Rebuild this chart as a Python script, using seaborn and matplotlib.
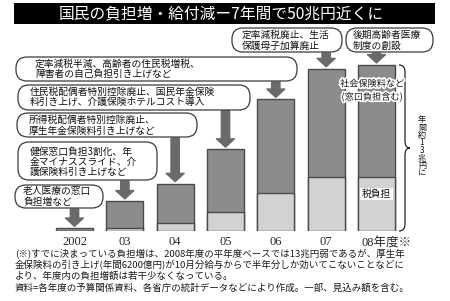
import numpy as np
import pandas as pd
import matplotlib
matplotlib.use("Agg")
import matplotlib.pyplot as plt
import seaborn as sns
import matplotlib.transforms as mtransforms
import matplotlib.patheffects as pe
from matplotlib.patches import FancyBboxPatch, Rectangle, PathPatch
from matplotlib.path import Path

# ---------------- data ----------------
years = ["2002", "03", "04", "05", "06", "07", "08年度※"]
tax = [0.0, 0.23, 0.6, 1.5, 3.0, 4.2, 4.2]          # 税負担 (兆円)
social = [0.2, 2.12, 3.1, 4.9, 7.3, 8.5, 8.8]       # 社会保険料など (兆円)

title = "国民の負担増・給付減ー7年間で50兆円近くに"
callout_texts = [
    ["老人医療の窓口", "負担増など"],
    ["健保窓口負担3割化、年", "金マイナススライド、介", "護保険料引き上げなど"],
    ["所得税配偶者特別控除廃止、", "厚生年金保険料引き上げなど"],
    ["住民税配偶者特別控除廃止、国民年金保険", "料引き上げ、介護保険ホテルコスト導入"],
    ["定率減税半減、高齢者の住民税増税、", "障害者の自己負担引き上げなど"],
    ["定率減税廃止、生活", "保護母子加算廃止"],
    ["後期高齢者医療", "制度の創設"],
]
series_labels = ["社会保険料など", "(窓口負担含む)", "税負担"]
brace_label = "年間約13兆円に"
footnotes = [
    "(※)すでに決まっている負担増は、2008年度の平年度ベースでは13兆円弱であるが、厚生年",
    "金保険料の引き上げ(年間6200億円)が10月分給与からで半年分しか効いてこないことなどに",
    "より、年度内の負担増額は若干少なくなっている。",
    "資料=各年度の予算関係資料、各省庁の統計データなどにより作成。一部、見込み額を含む。",
]

# ---------------- style ----------------
sns.set_theme(style="white")
JP = ["Noto Sans CJK JP", "DejaVu Sans"]
SERIF = ["Liberation Serif", "Noto Sans CJK JP"]
plt.rcParams["font.family"] = JP

DARK = "#8c8c8c"
LIGHT = "#d2d2d2"
EDGE = "#4a4a4a"
ARROW = "#6a6a6a"

W, H = 450, 301
fig = plt.figure(figsize=(W / 100, H / 100), dpi=100)
fig.patch.set_facecolor("white")
T = mtransforms.Affine2D().scale(1 / W, 1 / H) + fig.transFigure


def Y(y):
    return H - y


# bar axes
step = 50.33
left_px = 74.5 - 0.5 * step
base_px = 231
ppu = 12.77
ymax = 14
ax = fig.add_axes([left_px / W, (H - base_px) / H, 7 * step / W, ymax * ppu / H])

df = pd.DataFrame({"year": years, "tax": tax, "social": social})
df["total"] = df["tax"] + df["social"]

sns.barplot(data=df, x="year", y="total", color=DARK, saturation=1,
            edgecolor=EDGE, linewidth=1.0, width=0.735, ax=ax)
sns.barplot(data=df, x="year", y="tax", color=LIGHT, saturation=1,
            edgecolor=EDGE, linewidth=1.0, width=0.735, ax=ax)
ax.set_xlim(-0.5, 6.5)
ax.set_ylim(0, ymax)
ax.set_axis_off()

# x labels
for i, lab in enumerate(years):
    if i == len(years) - 1:
        ax.annotate(lab, xy=(i, 0), xycoords="data", xytext=(-10.5, -8.2),
                    textcoords="offset points", ha="left", va="center",
                    fontsize=9, family=SERIF, annotation_clip=False)
    else:
        ax.annotate(lab, xy=(i, 0), xycoords="data", xytext=(0, -8.2),
                    textcoords="offset points", ha="center", va="center",
                    fontsize=9, family=SERIF, annotation_clip=False)

# title
fig.add_artist(Rectangle((14, Y(24)), 421, 21, transform=T, fc="black", ec="none"))
fig.text(221, Y(13.5), title, transform=T, ha="center", va="center",
         color="white", fontsize=11.3, family=JP)

# callout bubbles (pixel boxes: x0, y0, x1, y1) and text line positions
boxes = [
    (15, 185, 103, 208),
    (18, 142, 157, 180),
    (17, 113, 197, 137),
    (18, 85, 250, 110),
    (16, 57, 297, 81),
    (232, 28, 342, 52),
    (346, 28, 433, 52),
]
text_x = [23, 30, 29, 30, 35, 242, 353]
text_y = [
    [191, 202],
    [152, 162, 172],
    [120, 131],
    [92, 102],
    [64, 74],
    [35, 46],
    [35, 46],
]
arrow_tail = [209, 181, 138, 110, 82, 53, 53]

for (x0, y0, x1, y1) in boxes:
    h = y1 - y0
    fig.add_artist(FancyBboxPatch((x0, Y(y1)), x1 - x0, h, transform=T,
                                  boxstyle=f"round,pad=0,rounding_size={min(11, h/2)}",
                                  fc="white", ec="#3a3a3a", lw=0.9, zorder=3))
for lines, tx, tys in zip(callout_texts, text_x, text_y):
    for line, ty in zip(lines, tys):
        fig.text(tx, Y(ty), line, transform=T, ha="left", va="center",
                 fontsize=7, color="#111111", zorder=4)

# arrows from bubbles to bar tops
bt = mtransforms.blended_transform_factory(ax.transData, T)
for i, ty in enumerate(arrow_tail):
    ax.annotate("", xy=(i, df["total"][i]), xycoords="data",
                xytext=(i, Y(ty)), textcoords=bt, annotation_clip=False,
                arrowprops=dict(arrowstyle="simple,head_length=0.6,head_width=1.3,tail_width=0.6",
                                mutation_scale=10, color=ARROW, shrinkA=0, shrinkB=1.5),
                zorder=5)

# series labels
halo = [pe.withStroke(linewidth=2.5, foreground="white")]
fig.text(372, Y(84), series_labels[0], transform=T, ha="center", va="center",
         fontsize=6.6, color="#111111", path_effects=halo, zorder=6)
fig.text(372, Y(97), series_labels[1], transform=T, ha="center", va="center",
         fontsize=6.6, color="#111111", path_effects=halo, zorder=6)
fig.text(376.5, Y(194), series_labels[2], transform=T, ha="center", va="center",
         fontsize=7, color="#111111", zorder=6,
         bbox=dict(boxstyle="square,pad=0.15", fc="white", ec="none"))

# brace next to last bar (x in pixels, y in data)
bb = mtransforms.blended_transform_factory(T, ax.transData)
top = df["total"].iloc[-1]
mid = top / 2
c = 0.55
xb, xt, xs = 405, 410, 399
verts = [(xs, top), (xb, top), (xb, top - c),
         (xb, mid + c),
         (xb, mid), (xt, mid),
         (xb, mid), (xb, mid - c),
         (xb, c),
         (xb, 0), (xs, 0)]
codes = [Path.MOVETO, Path.CURVE3, Path.CURVE3,
         Path.LINETO,
         Path.CURVE3, Path.CURVE3,
         Path.CURVE3, Path.CURVE3,
         Path.LINETO,
         Path.CURVE3, Path.CURVE3]
fig.add_artist(PathPatch(Path(verts, codes), transform=bb, fc="none", ec="#222222", lw=0.9))

# vertical label (one text, one character per line)
fig.text(422, Y(146.5), "\n".join(list(brace_label)), transform=T, ha="center",
         va="center", fontsize=5.8, color="#111111", linespacing=0.8,
         multialignment="center")

# footnotes
for line, yy in zip(footnotes, [254, 265.5, 276.5, 288]):
    fig.text(15, Y(yy), line, transform=T, ha="left", va="center",
             fontsize=6.8, color="#1a1a1a")

fig.savefig("out.png", dpi=100)
